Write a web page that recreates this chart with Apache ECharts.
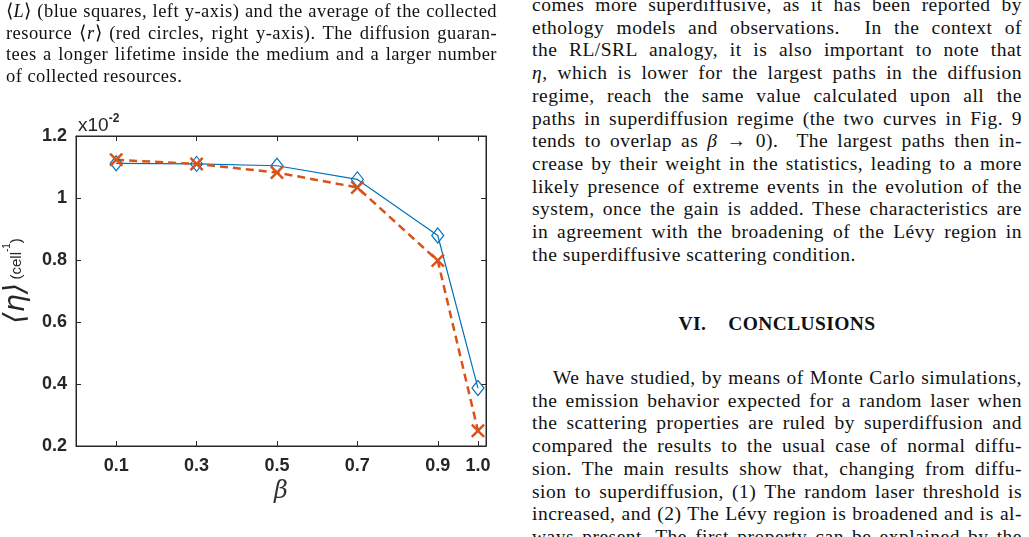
<!DOCTYPE html>
<html>
<head>
<meta charset="utf-8">
<script src="https://cdn.jsdelivr.net/npm/echarts@6/dist/echarts.min.js"></script>
<style>
  html, body { margin: 0; padding: 0; background: #fff; }
  #chart { width: 510px; height: 537px; }
  .txt { position: absolute; font-family: 'Liberation Serif', serif; color: #111; }
  .txt div { white-space: nowrap; text-align: justify; text-align-last: justify; }
  .txt div.last { text-align-last: left; }
  .caption { left: 6px; top: 1px; width: 491px; font-size: 18.5px; line-height: 21.6px; letter-spacing: 0.45px; }
  .col { left: 532px; width: 490px; font-size: 19.5px; line-height: 22.7px; letter-spacing: 0.5px; }
  .heading { position: absolute; left: 532px; width: 490px; top: 313px; text-align: center; font-family: 'Liberation Serif', serif; font-weight: bold; font-size: 19.5px; letter-spacing: 0.4px; color: #111; }
  .heading span { margin-left: 22px; }
</style>
</head>
<body>
<div id="chart"></div>

<div class="txt caption">
  <div>⟨<i>L</i>⟩ (blue squares, left y-axis) and the average of the collected</div>
  <div>resource ⟨<i>r</i>⟩ (red circles, right y-axis). The diffusion guaran-</div>
  <div>tees a longer lifetime inside the medium and a larger number</div>
  <div class="last">of collected resources.</div>
</div>

<div class="txt col" style="top:-6px">
  <div>comes more superdiffusive, as it has been reported by</div>
  <div>ethology models and observations. &nbsp;In the context of</div>
  <div>the RL/SRL analogy, it is also important to note that</div>
  <div><i>η</i>, which is lower for the largest paths in the diffusion</div>
  <div>regime, reach the same value calculated upon all the</div>
  <div>paths in superdiffusion regime (the two curves in Fig. 9</div>
  <div>tends to overlap as <i>β</i> → 0). &nbsp;The largest paths then in-</div>
  <div>crease by their weight in the statistics, leading to a more</div>
  <div>likely presence of extreme events in the evolution of the</div>
  <div>system, once the gain is added. These characteristics are</div>
  <div>in agreement with the broadening of the Lévy region in</div>
  <div class="last">the superdiffusive scattering condition.</div>
</div>

<div class="heading">VI.<span>CONCLUSIONS</span></div>

<div class="txt col" style="top:367px">
  <div style="padding-left:21px">We have studied, by means of Monte Carlo simulations,</div>
  <div>the emission behavior expected for a random laser when</div>
  <div>the scattering properties are ruled by superdiffusion and</div>
  <div>compared the results to the usual case of normal diffu-</div>
  <div>sion. The main results show that, changing from diffu-</div>
  <div>sion to superdiffusion, (1) The random laser threshold is</div>
  <div>increased, and (2) The Lévy region is broadened and is al-</div>
  <div>ways present. The first property can be explained by the</div>
</div>

<script>
// beta values on the x axis
const betaValues = [0.1, 0.3, 0.5, 0.7, 0.9, 1.0]
// <eta> for the largest paths (blue diamonds, solid)
const etaLargest = [1.112, 1.110, 1.104, 1.060, 0.879, 0.387]
// <eta> for all paths (red crosses, dashed)
const etaAll = [1.123, 1.110, 1.082, 1.034, 0.798, 0.249]
// x tick labels
const xTicks = [0.1, 0.3, 0.5, 0.7, 0.9, 1.0]

const axisColor = '#262626'
const crossPath = 'path://M0,2.5L2.5,0L10,7.5L17.5,0L20,2.5L12.5,10L20,17.5L17.5,20L10,12.5L2.5,20L0,17.5L7.5,10Z'

function xAxisOpt(pos, showLabel, color) {
  return {
    type: 'value',
    position: pos,
    min: 0,
    max: 1.02,
    axisLine: { show: true, onZero: false, lineStyle: { color: color, width: 1 } },
    axisTick: { show: true, inside: true, length: 5, customValues: xTicks, lineStyle: { color: color } },
    axisLabel: {
      show: showLabel,
      customValues: xTicks,
      formatter: v => v.toFixed(1),
      color: axisColor,
      fontFamily: 'Liberation Sans',
      fontWeight: 'bold',
      fontSize: 18,
      margin: 11
    },
    splitLine: { show: false }
  }
}
function yAxisOpt(pos, showLabel, color) {
  return {
    type: 'value',
    position: pos,
    min: 0.2,
    max: 1.2,
    interval: 0.2,
    axisLine: { show: true, onZero: false, lineStyle: { color: color, width: 1 } },
    axisTick: { show: true, inside: true, length: 5, lineStyle: { color: color } },
    axisLabel: {
      show: showLabel,
      color: axisColor,
      fontFamily: 'Liberation Sans',
      fontWeight: 'bold',
      fontSize: 18,
      margin: 9
    },
    splitLine: { show: false }
  }
}

const xBottom = xAxisOpt('bottom', true, axisColor)
xBottom.name = 'β'
xBottom.nameLocation = 'middle'
xBottom.nameGap = 33
xBottom.nameTextStyle = { fontFamily: 'DejaVu Serif', fontStyle: 'italic', fontSize: 24, color: '#333' }

const xTop = xAxisOpt('top', false, '#272727')
xTop.name = '{a|x10}{b|-2}'
xTop.nameLocation = 'start'
xTop.nameGap = -2
xTop.nameTextStyle = {
  align: 'left',
  verticalAlign: 'bottom',
  padding: [0, 0, 1, 0],
  rich: {
    a: { fontFamily: 'Liberation Sans', fontSize: 19, color: axisColor, verticalAlign: 'bottom' },
    b: { fontFamily: 'Liberation Sans', fontWeight: 'bold', fontSize: 12, color: axisColor, verticalAlign: 'top', padding: [0, 0, 10, 0] }
  }
}

const yLeft = yAxisOpt('left', true, axisColor)
yLeft.name = '{e|⟨η⟩} {u|(cell}{s|-1}{u|)}'
yLeft.nameLocation = 'middle'
yLeft.nameRotate = 90
yLeft.nameGap = 44
yLeft.nameTextStyle = {
  padding: [0, 0, 0, 20],
  rich: {
    e: { fontFamily: 'DejaVu Sans', fontStyle: 'italic', fontSize: 29, color: axisColor, verticalAlign: 'middle' },
    u: { fontFamily: 'Liberation Sans', fontSize: 15, color: axisColor, verticalAlign: 'middle' },
    s: { fontFamily: 'Liberation Sans', fontSize: 10, color: axisColor, verticalAlign: 'top', padding: [0, 0, 8, 0] }
  }
}

const yRight = yAxisOpt('right', false, '#252525')

const myChart = echarts.init(document.getElementById('chart'))
myChart.setOption({
  animation: false,
  grid: {
    left: 76, top: 136, width: 410, height: 310,
    outerBoundsMode: 'none',
    show: true, borderColor: '#282828', borderWidth: 1
  },
  xAxis: [xBottom, xTop],
  yAxis: [yLeft, yRight],
  series: [
    {
      name: 'largest paths',
      type: 'line',
      data: betaValues.map((b, i) => [b, etaLargest[i]]),
      symbol: 'diamond',
      symbolSize: [12, 15],
      lineStyle: { color: '#0072BD', width: 1.2 },
      itemStyle: { color: 'rgba(0,0,0,0)', borderColor: '#0072BD', borderWidth: 1.2 }
    },
    {
      name: 'all paths',
      type: 'line',
      data: betaValues.map((b, i) => [b, etaAll[i]]),
      symbol: crossPath,
      symbolSize: 14,
      lineStyle: { color: '#D95319', width: 2.5, type: [8, 5] },
      itemStyle: { color: '#D95319', borderWidth: 0 }
    }
  ]
})
</script>
</body>
</html>
